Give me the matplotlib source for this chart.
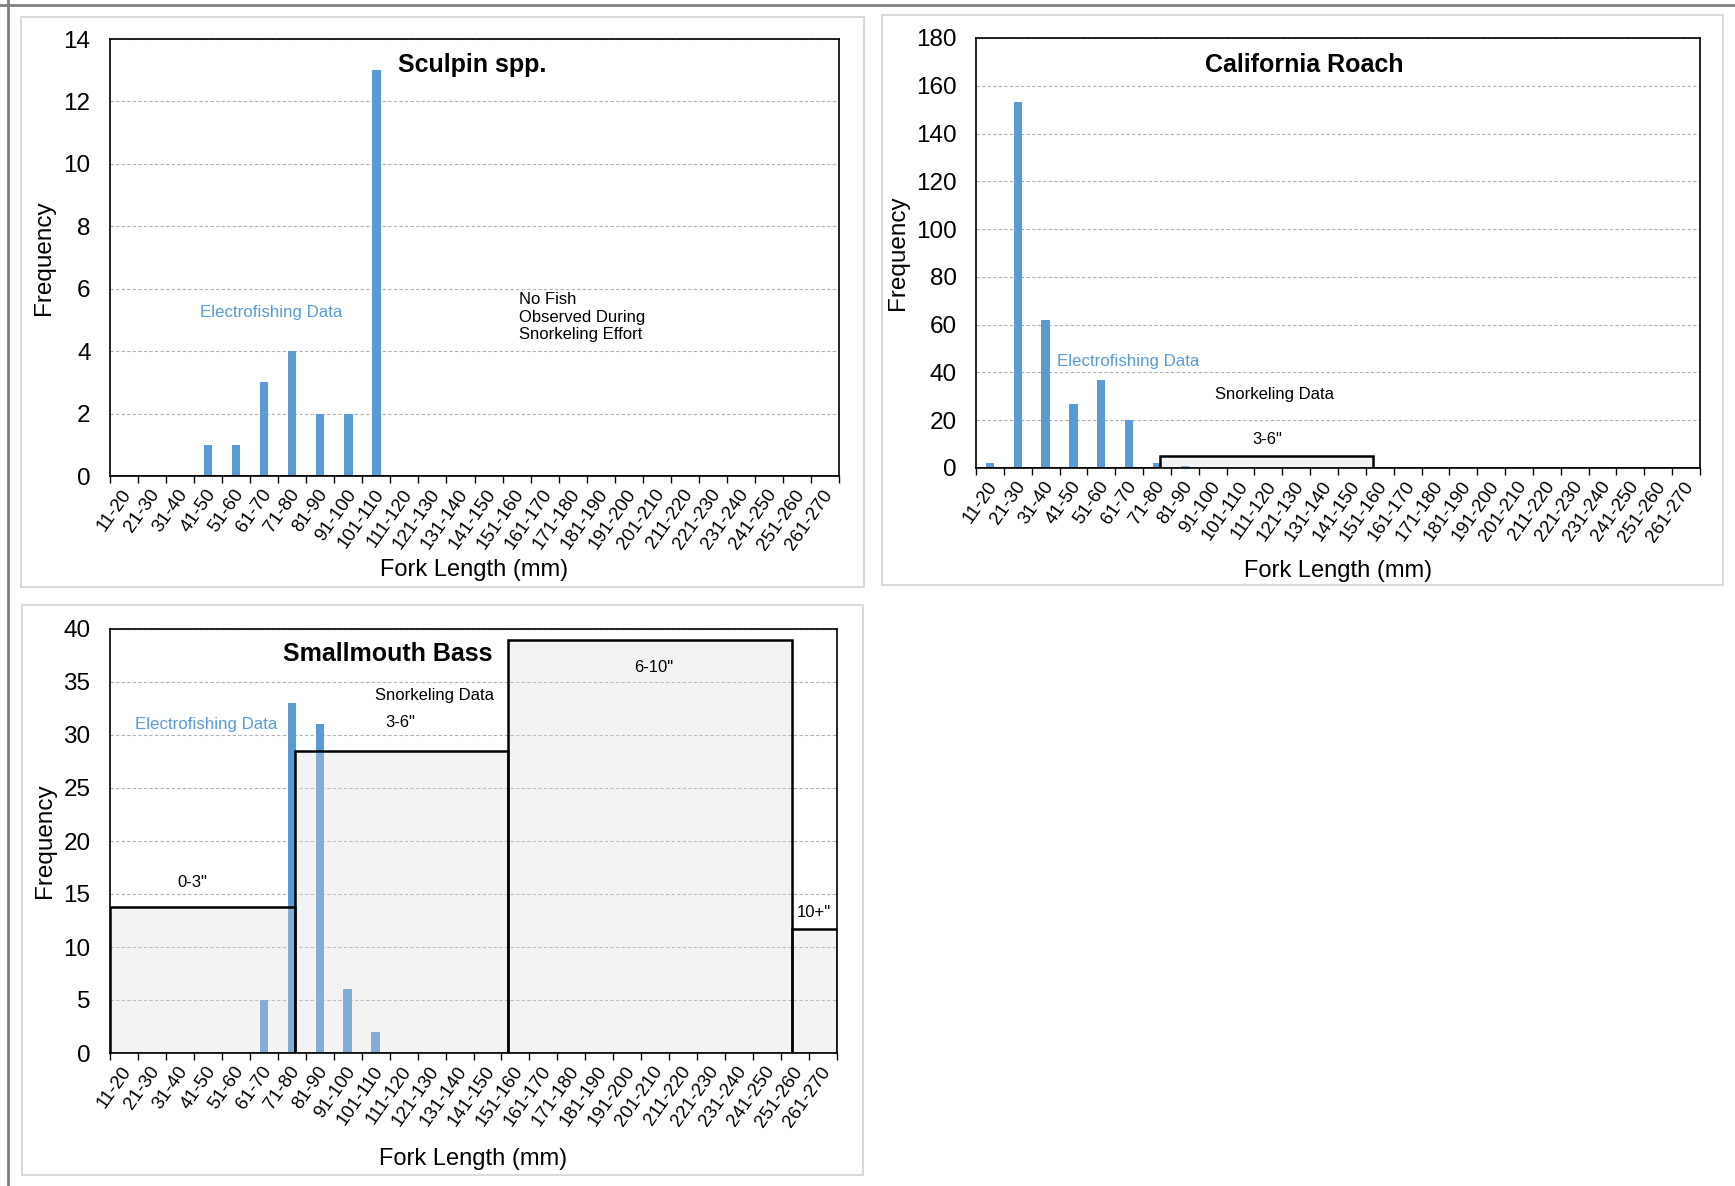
import matplotlib
matplotlib.use('Agg')
import numpy as np
import matplotlib.pyplot as plt
from matplotlib.patches import Rectangle
from matplotlib.lines import Line2D

plt.rcParams['font.family'] = ['Liberation Sans', 'DejaVu Sans']

# fork length bins (mm)
bins = ['11-20', '21-30', '31-40', '41-50', '51-60', '61-70', '71-80', '81-90',
        '91-100', '101-110', '111-120', '121-130', '131-140', '141-150', '151-160',
        '161-170', '171-180', '181-190', '191-200', '201-210', '211-220', '221-230',
        '231-240', '241-250', '251-260', '261-270']

# electrofishing counts per bin
sculpin = [0, 0, 0, 1, 1, 3, 4, 2, 2, 13, 0, 0, 0, 0, 0, 0, 0, 0, 0, 0, 0, 0, 0, 0, 0, 0]
roach = [2, 153, 62, 27, 37, 20, 2, 1, 0, 0, 0, 0, 0, 0, 0, 0, 0, 0, 0, 0, 0, 0, 0, 0, 0, 0]
bass = [0, 0, 0, 0, 0, 5, 33, 31, 6, 2, 0, 0, 0, 0, 0, 0, 0, 0, 0, 0, 0, 0, 0, 0, 0, 0]

# snorkeling size classes (inches) and counts
size_classes = ['0-3"', '3-6"', '6-10"', '10+"']
class_edges_in = [0, 3, 6, 10, 12]
sculpin_snork = [0, 0, 0, 0]
roach_snork = [0, 5, 0, 0]
bass_snork = [13.8, 28.5, 39.0, 11.7]

BLUE = '#5b9bd5'
W, H = 1735, 1186
n = len(bins)


def mm_to_x(mm):
    # category i is centred on x=i, bin 11-20 spans 10..20 mm
    return (mm - 15.0) / 10.0


def draw(ax, counts, snork, ymax, ystep):
    x = np.arange(n)
    ax.bar(x, counts, width=0.3, color=BLUE, zorder=2)
    for i in range(len(size_classes)):
        a = max(mm_to_x(class_edges_in[i] * 25.4), -0.5)
        b = min(mm_to_x(class_edges_in[i + 1] * 25.4), n - 0.5)
        ax.add_patch(Rectangle((a, 0), b - a, snork[i], facecolor=(0.85, 0.85, 0.85, 0.3),
                               edgecolor='black', lw=1.8, zorder=3, clip_on=True))
    ax.set_xlim(-0.5, n - 0.5)
    ax.set_ylim(0, ymax)
    ax.set_yticks(np.arange(0, ymax + 0.1, ystep))
    ax.yaxis.grid(True, ls=(0, (3, 2)), color='#b0b0b0', lw=0.8)
    ax.set_axisbelow(True)
    ax.tick_params(axis='y', length=0, pad=14, labelsize=17.5)
    ax.set_xticks(x + 0.15)
    ax.set_xticklabels(bins, rotation=55, ha='right', va='center', rotation_mode='anchor',
                       fontsize=13.5)
    ax.tick_params(axis='x', which='major', length=0, pad=11)
    ax.set_xticks(np.arange(n + 1) - 0.5, minor=True)
    ax.tick_params(axis='x', which='minor', length=5, width=1, direction='out')
    for s in ax.spines.values():
        s.set_color('black')
        s.set_linewidth(1.2)


fig = plt.figure(figsize=(W / 100, H / 100), dpi=100)

# panel frames and page border
for (x0, y0, x1, y1) in [(21, 17, 864, 587), (882, 15, 1723, 585), (22, 605, 863, 1175)]:
    fig.add_artist(Rectangle((x0 / W, 1 - y1 / H), (x1 - x0) / W, (y1 - y0) / H,
                             transform=fig.transFigure, fill=False, ec='#d9d9d9', lw=1.5))
fig.add_artist(Line2D([0, 1], [1 - 4.7 / H] * 2, transform=fig.transFigure, color='#808080', lw=2))
fig.add_artist(Line2D([7.5 / W] * 2, [0, 1], transform=fig.transFigure, color='#808080', lw=2))

ax1 = fig.add_axes([110 / W, 1 - 476 / H, 729 / W, 437 / H])
ax2 = fig.add_axes([976 / W, 1 - 468 / H, 724 / W, 430 / H])
ax3 = fig.add_axes([110 / W, 1 - 1053 / H, 727 / W, 424 / H])

draw(ax1, sculpin, sculpin_snork, 14, 2)
draw(ax2, roach, roach_snork, 180, 20)
draw(ax3, bass, bass_snork, 40, 5)

for ax, yl in [(ax1, -0.215), (ax2, -0.24), (ax3, -0.249)]:
    ax.text(0.5, yl, 'Fork Length (mm)', transform=ax.transAxes, ha='center', va='center', fontsize=17)
for ax, xl in [(ax1, -0.09), (ax2, -0.108), (ax3, -0.09)]:
    ax.text(xl, 0.5, 'Frequency', transform=ax.transAxes, ha='center', va='center',
            rotation=90, fontsize=17.5)

# Sculpin
ax1.text(0.497, 0.94, 'Sculpin spp.', transform=ax1.transAxes, ha='center', va='center',
         fontsize=18, fontweight='bold')
ax1.text(0.221, 0.375, 'Electrofishing Data', transform=ax1.transAxes, ha='center', va='center',
         fontsize=12.2, color=BLUE)
ax1.text(0.561, 0.363, 'No Fish\nObserved During\nSnorkeling Effort', transform=ax1.transAxes,
         ha='left', va='center', fontsize=12, linespacing=1.2)

# California Roach
ax2.text(0.453, 0.937, 'California Roach', transform=ax2.transAxes, ha='center', va='center',
         fontsize=18, fontweight='bold')
ax2.text(0.21, 0.248, 'Electrofishing Data', transform=ax2.transAxes, ha='center', va='center',
         fontsize=12.2, color=BLUE)
ax2.text(0.412, 0.17, 'Snorkeling Data', transform=ax2.transAxes, ha='center', va='center', fontsize=12)
ax2.text(0.402, 0.066, size_classes[1], transform=ax2.transAxes, ha='center', va='center', fontsize=12)

# Smallmouth Bass
ax3.text(0.382, 0.94, 'Smallmouth Bass', transform=ax3.transAxes, ha='center', va='center',
         fontsize=18, fontweight='bold')
ax3.text(0.132, 0.774, 'Electrofishing Data', transform=ax3.transAxes, ha='center', va='center',
         fontsize=12.2, color=BLUE)
ax3.text(0.447, 0.842, 'Snorkeling Data', transform=ax3.transAxes, ha='center', va='center', fontsize=12)
for lab, fx, fy in zip(size_classes, [0.113, 0.399, 0.748, 0.968], [0.401, 0.779, 0.91, 0.331]):
    ax3.text(fx, fy, lab, transform=ax3.transAxes, ha='center', va='center', fontsize=12)

fig.savefig('out.png', dpi=100)
